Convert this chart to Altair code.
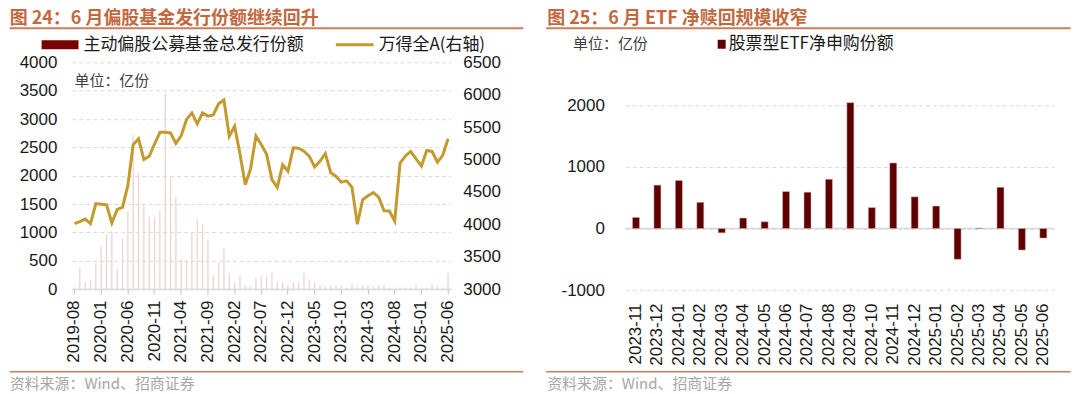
import altair as alt
import pandas as pd

# ---------------- data ----------------
fund_months = [f"{y}-{m:02d}" for y in range(2019, 2026) for m in range(1, 13)]
fund_months = fund_months[fund_months.index("2019-08"): fund_months.index("2025-06") + 1]

fund_tick_labels = ["2019-08", "2020-01", "2020-06", "2020-11", "2021-04", "2021-09",
                    "2022-02", "2022-07", "2022-12", "2023-05", "2023-10", "2024-03",
                    "2024-08", "2025-01", "2025-06"]

fund_issue = [30, 380, 135, 165, 460, 750, 960, 1020, 350, 890,
              1370, 2720, 2050, 1490, 1265, 1265, 1380, 3450, 1970, 1620,
              530, 500, 990, 1235, 1135, 870, 235, 470, 710, 280,
              120, 235, 60, 50, 190, 235, 220, 290, 130, 120,
              70, 120, 120, 280, 150, 120, 76, 41, 59, 59,
              59, 29, 100, 41, 65, 65, 41, 65, 71, 29,
              29, 24, 29, 29, 76, 18, 29, 88, 41, 29,
              280]

wind_all_a = [4010, 4040, 4080, 4010, 4320, 4310, 4300, 4020, 4230, 4260,
              4600, 5230, 5320, 5000, 5050, 5240, 5420, 5420, 5410, 5250,
              5370, 5620, 5720, 5550, 5720, 5670, 5690, 5860, 5920, 5360,
              5515, 5090, 4610, 4860, 5360, 5230, 5080, 4690, 4570, 4920,
              4820, 5180, 5175, 5130, 5050, 4885, 4975, 5090, 4800, 4740,
              4650, 4670, 4570, 4000, 4380, 4440, 4490, 4420, 4210, 4205,
              4050, 4945, 5055, 5125, 5010, 4900, 5140, 5125, 4960, 5065,
              5320]

etf_months = ["2023-11", "2023-12", "2024-01", "2024-02", "2024-03", "2024-04",
              "2024-05", "2024-06", "2024-07", "2024-08", "2024-09", "2024-10",
              "2024-11", "2024-12", "2025-01", "2025-02", "2025-03", "2025-04",
              "2025-05", "2025-06"]
etf_net = [180, 705, 780, 425, -70, 170, 110, 600, 590, 800,
           2045, 340, 1065, 515, 365, -500, 8, 670, -350, -155]

left_y_ticks = [0, 500, 1000, 1500, 2000, 2500, 3000, 3500, 4000]
right_y_ticks = [3000, 3500, 4000, 4500, 5000, 5500, 6000, 6500]
etf_y_ticks = [-1000, -500, 0, 500, 1000, 1500, 2000, 2500]

title_left = "图 24：6 月偏股基金发行份额继续回升"
title_right = "图 25：6 月 ETF 净赎回规模收窄"
legend_bar = "主动偏股公募基金总发行份额"
legend_line = "万得全A(右轴)"
legend_etf = "股票型ETF净申购份额"
unit_text = "单位：亿份"
source_text = "资料来源：Wind、招商证券"

# ---------------- style ----------------
CJK = "Noto Sans CJK SC"
NUM = "Liberation Sans"
TITLE_C = "#c3683f"
LINE_C = "#d27b58"
GOLD = "#c39a2e"
DARKRED = "#7b0000"
ETF_C = "#5e0000"
PALE = "#eccfcf"
GRID_C = "#d9d9d9"
TXT_C = "#1a1a1a"
SRC_C = "#a6a6a6"
LBL = 17
PLAIN = "datum.value + ''"


def one():
    return alt.Data(values=[{}])


def txt(s, x, y, size, color, weight="normal", baseline="middle", font=CJK):
    return alt.Chart(one()).mark_text(
        text=s, fontSize=size, color=color, font=font, fontWeight=weight,
        align="left", baseline=baseline
    ).encode(x=alt.value(x), y=alt.value(y))


def hrule(x1, x2, y, color, width):
    return alt.Chart(one()).mark_rule(color=color, strokeWidth=width).encode(
        x=alt.value(x1), x2=alt.value(x2), y=alt.value(y))


def rect(x1, x2, y1, y2, color):
    return alt.Chart(one()).mark_rect(color=color).encode(
        x=alt.value(x1), x2=alt.value(x2), y=alt.value(y1), y2=alt.value(y2))


OY = 61.7  # common plot top (page px) for both panels

# ---------------- left panel ----------------
W1, H1 = 380, 227.3
OX1 = 70.3

df1 = pd.DataFrame({"month": fund_months, "issue": fund_issue, "idx": wind_all_a})

x1 = alt.X("month:O", sort=fund_months,
           scale=alt.Scale(paddingInner=0, paddingOuter=0),
           axis=alt.Axis(values=fund_tick_labels, labelAngle=270, title=None,
                         labelFont=NUM, labelFontSize=LBL, labelColor=TXT_C,
                         tickColor="#bfbfbf", tickSize=5, domainColor=GRID_C,
                         domainWidth=1.5, labelPadding=6, grid=False))

bars1 = alt.Chart(df1).mark_bar(size=1.2, color=PALE).encode(
    x=x1,
    y=alt.Y("issue:Q", scale=alt.Scale(domain=[0, 4000], nice=False),
            axis=alt.Axis(values=left_y_ticks, title=None, labelFont=NUM,
                          labelFontSize=LBL, labelColor=TXT_C, domain=False,
                          ticks=False, labelPadding=15, grid=True, labelExpr=PLAIN,
                          gridColor=GRID_C, gridDash=[4, 3], gridWidth=1)))

line1 = alt.Chart(df1).mark_line(color=GOLD, strokeWidth=3).encode(
    x=alt.X("month:O", sort=fund_months),
    y=alt.Y("idx:Q", scale=alt.Scale(domain=[3000, 6500], nice=False, zero=False),
            axis=alt.Axis(orient="right", values=right_y_ticks, title=None,
                          labelFont=NUM, labelFontSize=LBL, labelColor=TXT_C,
                          labelExpr=PLAIN,
                          domain=False, ticks=False, labelPadding=12, grid=False)))

deco1 = [
    hrule(8 - OX1, 60 - OX1, 8.5 - OY, "#ffffff", 1),
    txt(title_left, 8 - OX1, 9 - OY, 18, TITLE_C, weight="bold", baseline="top"),
    hrule(8 - OX1, 523 - OX1, 27.5 - OY, LINE_C, 2),
    rect(40 - OX1, 77 - OX1, 39.5 - OY, 48.5 - OY, DARKRED),
    txt(legend_bar, 82 - OX1, 44 - OY, 17, TXT_C),
    hrule(335 - OX1, 373 - OX1, 44 - OY, GOLD, 3),
    txt(legend_line, 378 - OX1, 44 - OY, 17, TXT_C),
    txt(unit_text, 73 - OX1, 80 - OY, 15, "#404040"),
    hrule(8 - OX1, 523 - OX1, 372 - OY, LINE_C, 1.5),
    txt(source_text, 8 - OX1, 384 - OY, 15, SRC_C),
]

left = alt.layer(bars1, line1, *deco1).resolve_scale(y="independent").properties(
    width=W1, height=H1)

# ---------------- right panel ----------------
# value axis: -1000 at page y 290, 2500 at page y 74 -> 216 px per 3500
W2 = 430
OX2 = 624.3
H2 = 290 - OY
y_top = 2500 + (74 - OY) * 3500 / 216

df2 = pd.DataFrame({"month": etf_months, "net": etf_net})

bars2 = alt.Chart(df2).mark_bar(size=7, color=ETF_C, stroke="#d8b4b4", strokeWidth=0.5).encode(
    x=alt.X("month:O", sort=etf_months,
            scale=alt.Scale(paddingInner=0, paddingOuter=0),
            axis=alt.Axis(labelAngle=270, title=None, labelFont=NUM,
                          labelFontSize=LBL, labelColor=TXT_C, domain=False,
                          ticks=False, labelPadding=13, grid=False)),
    y=alt.Y("net:Q", scale=alt.Scale(domain=[-1000, y_top], nice=False),
            axis=alt.Axis(values=etf_y_ticks, title=None, labelFont=NUM,
                          labelFontSize=LBL, labelColor=TXT_C, domain=False,
                          ticks=False, labelPadding=21, grid=True, labelExpr=PLAIN,
                          gridColor=GRID_C, gridDash=[4, 3], gridWidth=1)))

zero2 = alt.Chart(alt.Data(values=[{"z": 0}])).mark_rule(
    color=GRID_C, strokeWidth=1.5).encode(y="z:Q")

deco2 = [
    hrule(546 - OX2, 600 - OX2, 8.5 - OY, "#ffffff", 1),
    txt(title_right, 546 - OX2, 9 - OY, 18, TITLE_C, weight="bold", baseline="top"),
    hrule(545 - OX2, 1071 - OX2, 27.5 - OY, LINE_C, 2),
    txt(unit_text, 572 - OX2, 43 - OY, 15, "#404040"),
    rect(717 - OX2, 725 - OX2, 39 - OY, 48 - OY, ETF_C),
    txt(legend_etf, 728 - OX2, 43.5 - OY, 17, TXT_C),
    hrule(545 - OX2, 1071 - OX2, 372 - OY, LINE_C, 1.5),
    txt(source_text, 546 - OX2, 384 - OY, 15, SRC_C),
]

right = alt.layer(zero2, bars2, *deco2).properties(width=W2, height=H2)

chart = alt.hconcat(left, right, spacing=20, bounds="full").properties(
    padding=0, background="white"
).configure_view(strokeWidth=0)

chart.save("out.html", embed_options={"renderer": "svg", "actions": False})
